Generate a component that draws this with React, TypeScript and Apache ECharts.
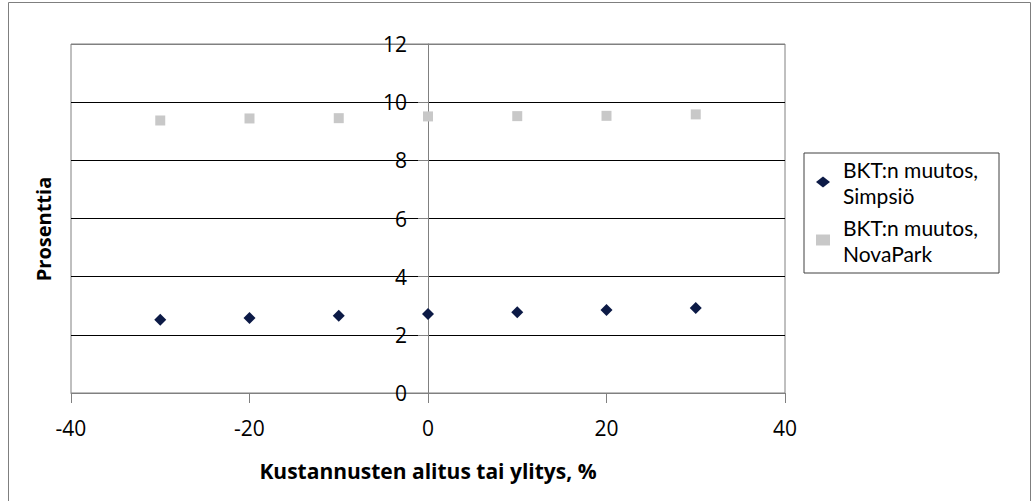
import React, { useEffect, useRef } from "react";
import * as echarts from "echarts";

// Cost deviation (%) on the x axis
const costDeviation = [-30, -20, -10, 0, 10, 20, 30];
// GDP change (%) for each site
const simpsio = [2.52, 2.58, 2.66, 2.72, 2.78, 2.85, 2.92];
const novaPark = [9.37, 9.44, 9.45, 9.51, 9.52, 9.53, 9.58];

const seriesNames = ["BKT:n muutos,\nSimpsiö", "BKT:n muutos,\nNovaPark"];
const xTitle = "Kustannusten alitus tai ylitys, %";
const yTitle = "Prosenttia";

const FONT = "'Open Sans', sans-serif";
const LEGEND_FONT = "Lato, 'Open Sans', sans-serif";

// plot box in page pixels
const GRID_LEFT = 71;
const GRID_RIGHT = 247;
const PLOT_WIDTH = 1032 - GRID_LEFT - GRID_RIGHT;

export default function App() {
  const ref = useRef<HTMLDivElement>(null);

  useEffect(() => {
    if (!ref.current) return;
    const chart = echarts.init(ref.current, undefined, { renderer: "svg" });
    const pairs = (ys: number[]) => costDeviation.map((x, i) => [x, ys[i]]);

    chart.setOption({
      animation: false,
      backgroundColor: "#ffffff",
      grid: {
        left: GRID_LEFT,
        right: GRID_RIGHT,
        top: 44,
        bottom: 108,
        show: true,
        borderColor: "#808080",
        borderWidth: 1,
        backgroundColor: "transparent",
      },
      xAxis: {
        type: "value",
        min: -40,
        max: 40,
        interval: 20,
        name: xTitle,
        nameLocation: "middle",
        nameGap: 67,
        nameTextStyle: { fontFamily: FONT, fontSize: 21, fontWeight: "bold", color: "#000" },
        axisLine: { lineStyle: { color: "#808080" } },
        axisTick: { show: true, length: 10, lineStyle: { color: "#808080" } },
        axisLabel: { fontFamily: FONT, fontSize: 21, color: "#000", margin: 24 },
        splitLine: { show: false },
      },
      yAxis: {
        type: "value",
        min: 0,
        max: 12,
        interval: 2,
        // the y axis crosses the x axis at zero, in the middle of the plot
        offset: -PLOT_WIDTH / 2,
        axisLine: { onZero: false, lineStyle: { color: "#808080" } },
        axisTick: { show: true, length: 10, lineStyle: { color: "#808080" } },
        axisLabel: { fontFamily: FONT, fontSize: 21, color: "#000", margin: 21 },
        splitLine: {
          show: true,
          lineStyle: {
            color: ["#808080", "#000", "#000", "#000", "#000", "#000", "#808080"],
            width: 1,
          },
        },
      },
      legend: {
        orient: "vertical",
        left: 804,
        top: 153,
        padding: [3, 12, 7, 12],
        itemGap: 6,
        itemWidth: 14,
        itemHeight: 11,
        borderColor: "#404040",
        borderWidth: 1,
        textStyle: {
          fontFamily: LEGEND_FONT,
          fontSize: 21,
          lineHeight: 26,
          color: "#000",
          width: 144,
          padding: [0, 0, 0, 8],
        },
        data: seriesNames,
      },
      graphic: [
        {
          type: "rect",
          shape: { x: 8.5, y: 2.5, width: 1022, height: 600 },
          style: { fill: "none", stroke: "#7f7f7f", lineWidth: 1 },
          silent: true,
        },
        {
          type: "text",
          x: 43,
          y: 229,
          rotation: Math.PI / 2,
          style: {
            text: yTitle,
            fontFamily: FONT,
            fontSize: 20,
            fontWeight: "bold",
            fill: "#000",
            align: "center",
            verticalAlign: "middle",
          },
        },
      ],
      series: [
        {
          name: seriesNames[0],
          type: "scatter",
          symbol: "diamond",
          symbolSize: 12,
          itemStyle: { color: "#0c1a46", opacity: 1 },
          data: pairs(simpsio),
        },
        {
          name: seriesNames[1],
          type: "scatter",
          symbol: "rect",
          symbolSize: 10,
          itemStyle: { color: "#c8c8c8", opacity: 1 },
          data: pairs(novaPark),
        },
      ],
    });

    return () => chart.dispose();
  }, []);

  return (
    <div
      ref={ref}
      style={{ position: "fixed", left: 0, top: 0, width: 1032, height: 501 }}
    />
  );
}
